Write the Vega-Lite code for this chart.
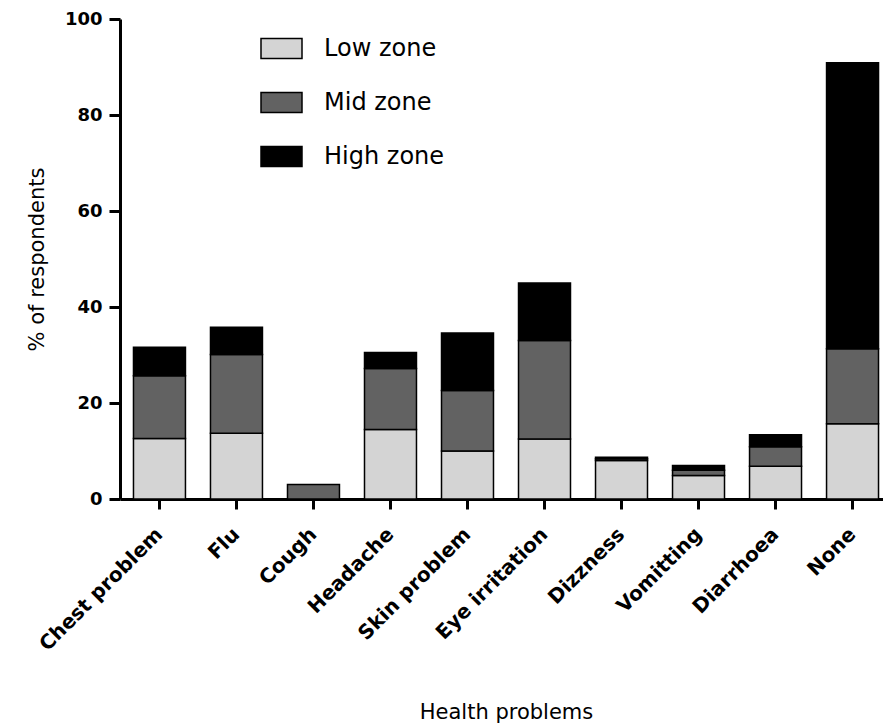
{
  "$schema": "https://vega.github.io/schema/vega-lite/v6.json",
  "width": 772,
  "height": 480,
  "autosize": {"type": "none"},
  "padding": {"left": 120, "top": 19, "right": 0, "bottom": 225},
  "background": "white",
  "config": {
    "view": {"stroke": null},
    "axis": {"grid": false, "domainColor": "black", "tickColor": "black", "domainWidth": 3, "tickWidth": 3, "labelColor": "black", "titleColor": "black"}
  },
  "data": {
    "values": [
      {"problem": "Chest problem", "zone": "Low zone", "k": 1, "pct": 12.6},
      {"problem": "Chest problem", "zone": "Mid zone", "k": 2, "pct": 13.1},
      {"problem": "Chest problem", "zone": "High zone", "k": 3, "pct": 5.9},
      {"problem": "Flu", "zone": "Low zone", "k": 1, "pct": 13.7},
      {"problem": "Flu", "zone": "Mid zone", "k": 2, "pct": 16.4},
      {"problem": "Flu", "zone": "High zone", "k": 3, "pct": 5.7},
      {"problem": "Cough", "zone": "Mid zone", "k": 2, "pct": 3.0},
      {"problem": "Headache", "zone": "Low zone", "k": 1, "pct": 14.5},
      {"problem": "Headache", "zone": "Mid zone", "k": 2, "pct": 12.7},
      {"problem": "Headache", "zone": "High zone", "k": 3, "pct": 3.3},
      {"problem": "Skin problem", "zone": "Low zone", "k": 1, "pct": 10.0},
      {"problem": "Skin problem", "zone": "Mid zone", "k": 2, "pct": 12.6},
      {"problem": "Skin problem", "zone": "High zone", "k": 3, "pct": 12.0},
      {"problem": "Eye irritation", "zone": "Low zone", "k": 1, "pct": 12.5},
      {"problem": "Eye irritation", "zone": "Mid zone", "k": 2, "pct": 20.5},
      {"problem": "Eye irritation", "zone": "High zone", "k": 3, "pct": 12.0},
      {"problem": "Dizzness", "zone": "Low zone", "k": 1, "pct": 8.0},
      {"problem": "Dizzness", "zone": "Mid zone", "k": 2, "pct": 0.4},
      {"problem": "Dizzness", "zone": "High zone", "k": 3, "pct": 0.3},
      {"problem": "Vomitting", "zone": "Low zone", "k": 1, "pct": 4.9},
      {"problem": "Vomitting", "zone": "Mid zone", "k": 2, "pct": 1.1},
      {"problem": "Vomitting", "zone": "High zone", "k": 3, "pct": 1.0},
      {"problem": "Diarrhoea", "zone": "Low zone", "k": 1, "pct": 6.8},
      {"problem": "Diarrhoea", "zone": "Mid zone", "k": 2, "pct": 4.1},
      {"problem": "Diarrhoea", "zone": "High zone", "k": 3, "pct": 2.5},
      {"problem": "None", "zone": "Low zone", "k": 1, "pct": 15.7},
      {"problem": "None", "zone": "Mid zone", "k": 2, "pct": 15.6},
      {"problem": "None", "zone": "High zone", "k": 3, "pct": 59.6}
    ]
  },
  "mark": {"type": "bar", "stroke": "black", "strokeWidth": 1.5},
  "encoding": {
    "x": {
      "field": "problem",
      "type": "nominal",
      "sort": null,
      "scale": {"paddingInner": 0.325, "paddingOuter": 0.175},
      "axis": {
        "title": "Health problems",
        "titleFont": "DejaVu Sans",
        "titleFontSize": 21,
        "titleFontWeight": "normal",
        "titlePadding": 47,
        "labelAngle": -45,
        "labelAlign": "right",
        "labelBaseline": "middle",
        "labelFont": "DejaVu Sans",
        "labelFontWeight": "bold",
        "labelFontSize": 20,
        "labelPadding": 22,
        "tickSize": 10
      }
    },
    "y": {
      "field": "pct",
      "type": "quantitative",
      "stack": "zero",
      "scale": {"domain": [0, 100], "nice": false},
      "axis": {
        "title": "% of respondents",
        "titleFont": "DejaVu Sans",
        "titleFontSize": 21,
        "titleFontWeight": "normal",
        "titlePadding": 17,
        "values": [0, 20, 40, 60, 80, 100],
        "labelFont": "DejaVu Sans",
        "labelFontWeight": "bold",
        "labelFontSize": 18,
        "labelPadding": 7,
        "tickSize": 11
      }
    },
    "color": {
      "field": "zone",
      "type": "nominal",
      "scale": {"domain": ["Low zone", "Mid zone", "High zone"], "range": ["#d4d4d4", "#626262", "#000000"]},
      "legend": {
        "title": null,
        "orient": "none",
        "legendX": 140,
        "legendY": 8,
        "symbolType": "M-1,-0.49H1V0.49H-1Z",
        "symbolSize": 1681,
        "symbolStrokeColor": "black",
        "symbolStrokeWidth": 1.5,
        "symbolOpacity": 1,
        "labelFont": "DejaVu Sans",
        "labelFontSize": 24,
        "labelColor": "black",
        "labelOffset": 21,
        "rowPadding": 19,
        "padding": 0
      }
    },
    "order": {"field": "k", "type": "quantitative"}
  }
}
